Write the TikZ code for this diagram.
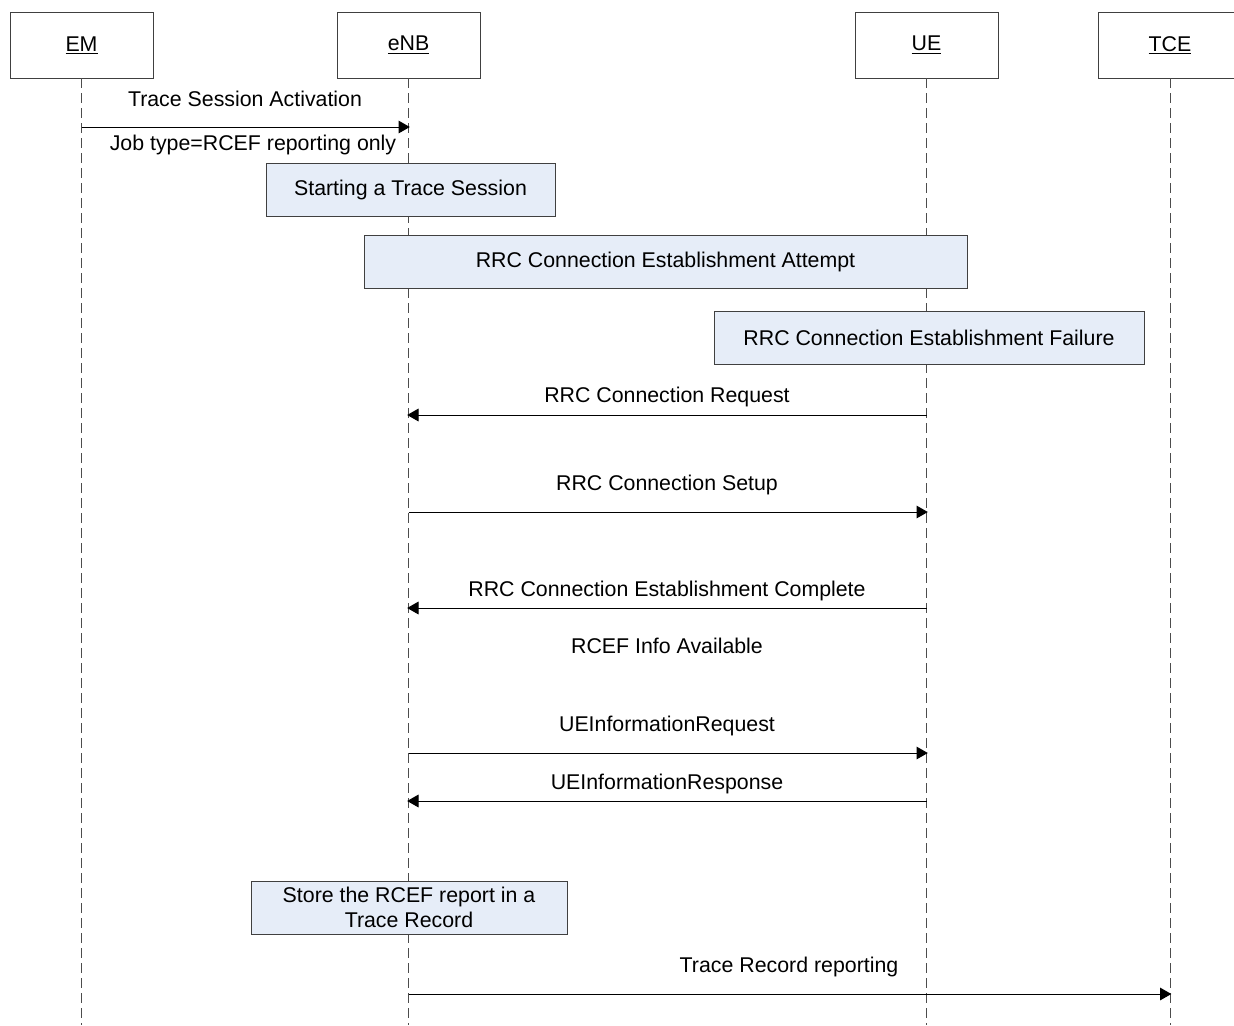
\documentclass[tikz,border=0pt]{standalone}
\usepackage{fontspec}
\setmainfont{Liberation Sans}
\usetikzlibrary{arrows.meta}
\definecolor{actfill}{RGB}{230,237,248}
\tikzset{
  head/.style={draw=black!75, fill=white, minimum width=107.25pt, minimum height=49.5pt, inner sep=0pt},
  actbox/.style={draw=black!75, fill=actfill, minimum height=39.5pt, inner sep=0pt, align=center},
  lifeline/.style={draw=black!70, dash pattern=on 7.5pt off 3.75pt, line width=0.6pt},
  msg/.style={draw=black, line width=0.75pt, -{Triangle[length=8.5pt, width=9.5pt]}, shorten >=-1pt},
  msgtext/.style={inner sep=0pt}
}
\begin{document}
\begin{tikzpicture}[x=0.75pt,y=-0.75pt, font=\fontsize{16}{18.75}\selectfont]
\useasboundingbox (0,0) rectangle (1234,1025);
\fill[white] (0,0) rectangle (1234,1025);
\node[head] (EM) at (81.5,45) {\underline{EM}};
\node[head] (eNB) at (408.5,45) {\underline{eNB}};
\node[head] (UE) at (926.5,45) {\underline{UE}};
\node[head] (TCE) at (1170,45) {\underline{TCE}};
\coordinate (bottom) at (0,1025);
\draw[lifeline] (EM) -- (EM |- bottom);
\draw[lifeline] (eNB) -- (eNB |- bottom);
\draw[lifeline] (UE) -- (UE |- bottom);
\draw[lifeline] (TCE) -- (TCE |- bottom);
% trace activation
\coordinate (m1) at (0,127);
\draw[msg] (EM |- m1) -- (eNB |- m1);
\node[msgtext] (m1top) at (245,98.5) {Trace Session Activation};
\node[msgtext] (m1bot) at (253,144.5) {Job type=RCEF reporting only};
\node[actbox, minimum width=216.75pt] (start) at (410.5,189.5) {Starting a Trace Session};
\node[actbox, minimum width=452.25pt] (attempt) at (665.5,262) {RRC Connection Establishment Attempt};
\node[actbox, minimum width=322.5pt] (failure) at (929,337.5) {RRC Connection Establishment Failure};
% RRC messages
\coordinate (m2) at (0,415);
\draw[msg] (UE |- m2) -- (eNB |- m2);
\node[msgtext] (m2lab) at (667,397) {RRC Connection Request};
\coordinate (m3) at (0,512);
\draw[msg] (eNB |- m3) -- (UE |- m3);
\node[msgtext] (m3lab) at (667,485) {RRC Connection Setup};
\coordinate (m4) at (0,608);
\draw[msg] (UE |- m4) -- (eNB |- m4);
\node[msgtext] (m4lab) at (667,591) {RRC Connection Establishment Complete};
\node[msgtext] (info) at (667,646) {RCEF Info Available};
\coordinate (m5) at (0,753);
\draw[msg] (eNB |- m5) -- (UE |- m5);
\node[msgtext] (m5lab) at (667,726) {UEInformationRequest};
\coordinate (m6) at (0,801);
\draw[msg] (UE |- m6) -- (eNB |- m6);
\node[msgtext] (m6lab) at (667,784) {UEInformationResponse};
\node[actbox, minimum width=237pt] (store) at (409,907.5) {Store the RCEF report in a\\Trace Record};
% reporting
\coordinate (m7) at (0,994);
\draw[msg] (eNB |- m7) -- (TCE |- m7);
\node[msgtext] (m7lab) at (789,967) {Trace Record reporting};
\end{tikzpicture}
\end{document}
